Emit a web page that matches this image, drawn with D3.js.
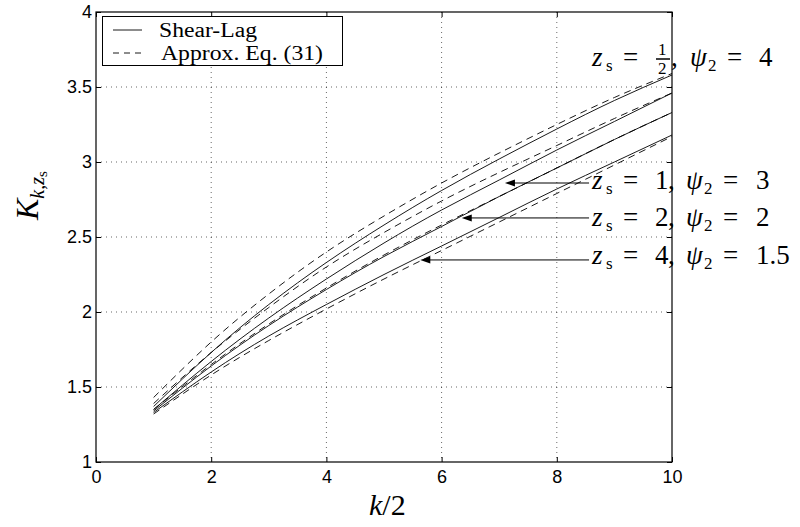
<!DOCTYPE html>
<html><head><meta charset="utf-8">
<script src="https://cdn.jsdelivr.net/npm/d3@7"></script>
<style>body{margin:0;background:#fff}</style>
</head><body>
<svg id="c" width="800" height="527"></svg>
<script>
// ---- data ----
const kHalf = [1, 2, 3, 4, 5, 6, 7, 8, 9, 10];
const shearLagZsHalf = [1.37, 1.73, 2.05, 2.33, 2.58, 2.81, 3.02, 3.22, 3.41, 3.58];
const shearLagZs1    = [1.35, 1.67, 1.96, 2.22, 2.46, 2.68, 2.88, 3.08, 3.27, 3.46];
const shearLagZs2    = [1.34, 1.64, 1.91, 2.15, 2.37, 2.57, 2.77, 2.96, 3.15, 3.33];
const shearLagZs4    = [1.33, 1.60, 1.84, 2.05, 2.25, 2.44, 2.63, 2.82, 3.00, 3.18];
const approxZsHalf   = [1.43, 1.80, 2.12, 2.40, 2.64, 2.86, 3.06, 3.25, 3.43, 3.59];
const approxZs1      = [1.39, 1.73, 2.03, 2.30, 2.53, 2.74, 2.93, 3.11, 3.29, 3.46];
const approxZs2      = [1.35, 1.65, 1.92, 2.16, 2.38, 2.58, 2.77, 2.96, 3.15, 3.33];
const approxZs4      = [1.32, 1.58, 1.81, 2.02, 2.22, 2.41, 2.60, 2.79, 2.98, 3.17];
const xTicks = [0, 2, 4, 6, 8, 10];
const xTickLabels = ["0", "2", "4", "6", "8", "10"];
const yTicks = [1, 1.5, 2, 2.5, 3, 3.5, 4];
const yTickLabels = ["1", "1.5", "2", "2.5", "3", "3.5", "4"];
const legendLabels = ["Shear-Lag", "Approx. Eq. (31)"];
// arrows: tip x, tail x, K level
const arrowTipX  = [7.1, 6.35, 5.63];
const arrowTailX = [8.56, 8.56, 8.56];
const arrowK     = [2.86, 2.627, 2.347];
const zsLabels  = ["1", "2", "4"];
const psiLabels = ["3", "2", "1.5"];

// ---- layout ----
const svg = d3.select("#c");
const L = 96, R = 672, T = 12, B = 462;
const x = d3.scaleLinear().domain([0, 10]).range([L, R]);
const y = d3.scaleLinear().domain([1, 4]).range([B, T]);
const serif = "Liberation Serif";
const sans = "Liberation Sans";

// grid
const grid = svg.append("g");
grid.selectAll("line.gx").data(xTicks.slice(1, -1)).join("line")
  .attr("x1", d => x(d)).attr("x2", d => x(d)).attr("y1", T).attr("y2", B)
  .attr("stroke", "#000").attr("stroke-width", 0.6).attr("stroke-dasharray", "1,4");
grid.selectAll("line.gy").data(yTicks.slice(1, -1)).join("line")
  .attr("y1", d => y(d)).attr("y2", d => y(d)).attr("x1", L).attr("x2", R)
  .attr("stroke", "#000").attr("stroke-width", 0.6).attr("stroke-dasharray", "1,4");

// axes
const axB = svg.append("g").attr("transform", `translate(0,${B})`)
  .call(d3.axisBottom(x).tickValues(xTicks).tickFormat((d, i) => xTickLabels[i]).tickSizeInner(-5).tickSizeOuter(0).tickPadding(8));
const axT = svg.append("g").attr("transform", `translate(0,${T})`)
  .call(d3.axisTop(x).tickValues(xTicks).tickFormat("").tickSizeInner(-5).tickSizeOuter(0));
const axL = svg.append("g").attr("transform", `translate(${L},0)`)
  .call(d3.axisLeft(y).tickValues(yTicks).tickFormat((d, i) => yTickLabels[i]).tickSizeInner(-5).tickSizeOuter(0).tickPadding(4));
const axR = svg.append("g").attr("transform", `translate(${R},0)`)
  .call(d3.axisRight(y).tickValues(yTicks).tickFormat("").tickSizeInner(-5).tickSizeOuter(0));
[axB, axT, axL, axR].forEach(a => {
  a.select(".domain").remove();
  a.selectAll("line").attr("stroke", "#000").attr("stroke-width", 1);
  a.selectAll("text").attr("font-family", null).style("font-family", sans).attr("font-size", 18).attr("fill", "#000");
});
svg.append("rect").attr("x", L).attr("y", T).attr("width", R - L).attr("height", B - T)
  .attr("fill", "none").attr("stroke", "#000").attr("stroke-width", 1.2);

// curves
const line = d3.line().x((d, i) => x(kHalf[i])).y(d => y(d)).curve(d3.curveNatural);
const solids = [shearLagZsHalf, shearLagZs1, shearLagZs2, shearLagZs4];
const dashes = [approxZsHalf, approxZs1, approxZs2, approxZs4];
svg.append("g").selectAll("path").data(dashes).join("path")
  .attr("d", line).attr("fill", "none").attr("stroke", "#000").attr("stroke-width", 0.9)
  .attr("stroke-dasharray", "7,5");
svg.append("g").selectAll("path").data(solids).join("path")
  .attr("d", line).attr("fill", "none").attr("stroke", "#000").attr("stroke-width", 0.9);

// arrows
const ag = svg.append("g");
arrowK.forEach((k, i) => {
  const yy = y(k), xt = x(arrowTipX[i]), xs = x(arrowTailX[i]);
  ag.append("line").attr("x1", xs).attr("x2", xt + 6).attr("y1", yy).attr("y2", yy)
    .attr("stroke", "#000").attr("stroke-width", 1);
  ag.append("path").attr("d", `M${xt},${yy} L${xt + 10},${yy - 3.5} L${xt + 10},${yy + 3.5} Z`).attr("fill", "#000");
});

// math labels
function tok(g, txt, xx, yy, size, italic) {
  g.append("text").attr("x", xx).attr("y", yy).style("font-family", serif)
    .attr("font-size", size).attr("font-style", italic ? "italic" : "normal").attr("fill", "#000").text(txt);
}
function zsPsi(base, zsVal, psiVal, frac) {
  const g = svg.append("g");
  tok(g, "z", 592, base, 27, true);
  tok(g, "s", 606, base + 5, 17, false);
  tok(g, "=", 623, base, 27, false);
  if (frac) {
    tok(g, "1", 658, base - 11, 17, false);
    g.append("line").attr("x1", 656).attr("x2", 670).attr("y1", base - 7).attr("y2", base - 7).attr("stroke", "#000").attr("stroke-width", 1.5);
    tok(g, "2", 658, base + 8, 17, false);
    tok(g, ",", 671, base, 27, false);
    tok(g, "\u03c8", 690, base, 27, true);
    tok(g, "2", 708, base + 5, 17, false);
    tok(g, "=", 727, base, 27, false);
    tok(g, psiVal, 759, base, 27, false);
  } else {
    tok(g, zsVal, 655, base, 27, false);
    tok(g, ",", 668, base, 27, false);
    tok(g, "\u03c8", 686, base, 27, true);
    tok(g, "2", 704, base + 5, 17, false);
    tok(g, "=", 723, base, 27, false);
    tok(g, psiVal, 756, base, 27, false);
  }
}
zsPsi(66, "1/2", "4", true);
zsPsi(189, zsLabels[0], psiLabels[0], false);
zsPsi(226, zsLabels[1], psiLabels[1], false);
zsPsi(264, zsLabels[2], psiLabels[2], false);

// legend
const lg = svg.append("g");
lg.append("rect").attr("x", 102.5).attr("y", 16.5).attr("width", 240).attr("height", 49)
  .attr("fill", "#fff").attr("stroke", "#000").attr("stroke-width", 1);
lg.append("line").attr("x1", 113).attr("x2", 142).attr("y1", 30).attr("y2", 30).attr("stroke", "#000").attr("stroke-width", 0.9);
lg.append("line").attr("x1", 113).attr("x2", 142).attr("y1", 53).attr("y2", 53).attr("stroke", "#000").attr("stroke-width", 0.9).attr("stroke-dasharray", "6,5");
lg.append("text").attr("x", 159).attr("y", 37).style("font-family", serif).attr("font-size", 20)
  .attr("textLength", 98).attr("lengthAdjust", "spacingAndGlyphs").text(legendLabels[0]);
lg.append("text").attr("x", 161).attr("y", 60).style("font-family", serif).attr("font-size", 20)
  .attr("textLength", 162).attr("lengthAdjust", "spacingAndGlyphs").text(legendLabels[1]);

// axis labels
const xl = svg.append("text").attr("x", 369).attr("y", 515).style("font-family", serif).attr("font-size", 30);
xl.append("tspan").attr("font-style", "italic").text("k");
xl.append("tspan").text("/2");
const yl = svg.append("text").attr("transform", "translate(38,220) rotate(-90)").style("font-family", serif);
yl.append("tspan").attr("font-style", "italic").attr("font-size", 32).text("K");
yl.append("tspan").attr("font-style", "italic").attr("font-size", 20).attr("dy", 6).text("k,z");
yl.append("tspan").attr("font-size", 15).attr("dy", 3).text("s");
</script>
</body></html>
